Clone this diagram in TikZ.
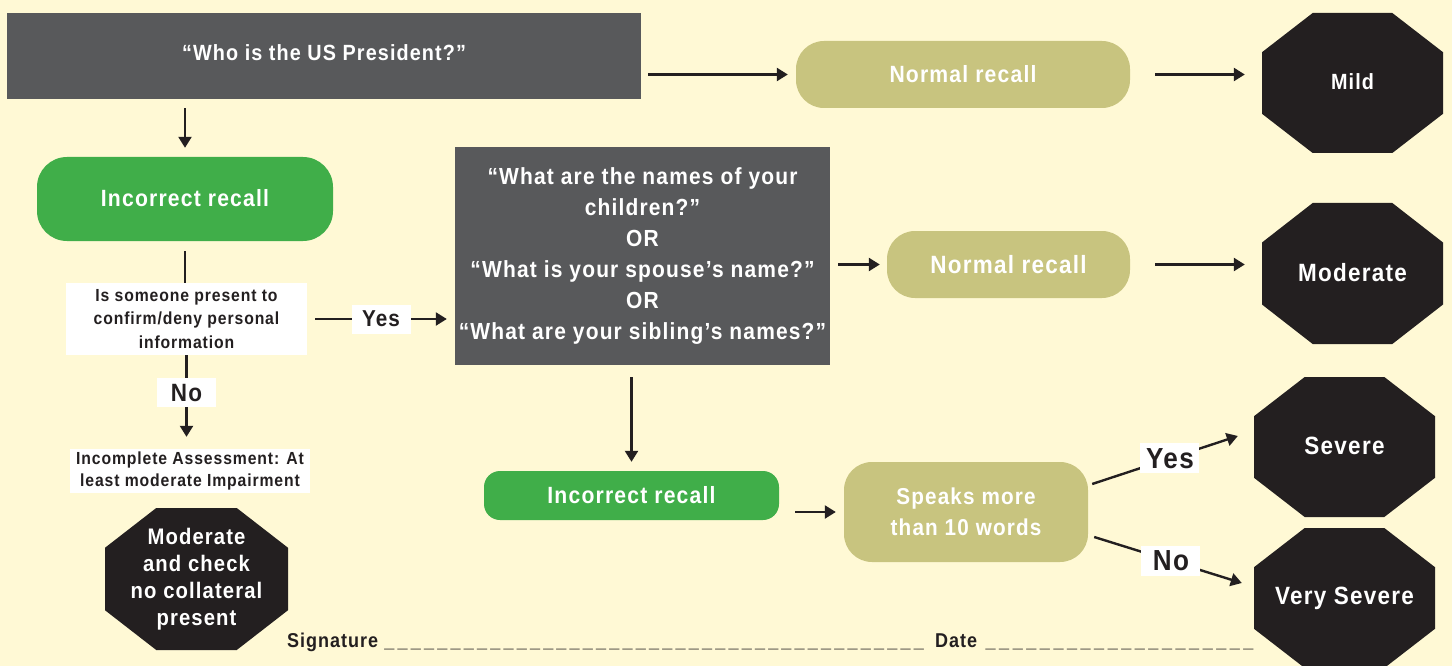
\documentclass[tikz,border=0pt]{standalone}
\usepackage{fontspec}
\newfontfamily\cf{Liberation Sans Bold}[FakeStretch=0.9,LetterSpace=5]
\usetikzlibrary{arrows.meta,calc}
\definecolor{bgc}{HTML}{FFF9D5}
\definecolor{dkc}{HTML}{58595B}
\definecolor{grc}{HTML}{40AE49}
\definecolor{tanc}{HTML}{C8C47F}
\definecolor{occ}{HTML}{231F20}
\begin{document}
\begin{tikzpicture}[x=1pt,y=-1pt,
  every node/.style={inner sep=0pt, align=center},
  fs/.style n args={2}{font={\cf\fontsize{#1}{#2}\selectfont}},
  arr/.style={draw=occ, line width=2.4pt, -{Triangle[length=11pt,width=13pt]}},
  ln/.style={draw=occ, line width=2.4pt},
  qbox/.style={fill=dkc, text=white},
  grbox/.style={fill=grc, text=white},
  tanbox/.style={fill=tanc, text=white},
  wbox/.style={fill=white, text=occ},
  lbl/.style={fill=white, text=occ},
  octo/.style={text=white, path picture={
    \fill[occ] let \p1=(path picture bounding box.south west),
      \p2=(path picture bounding box.north east),
      \n1={0.28*(\x2-\x1)}, \n2={0.28*(\y2-\y1)} in
      (\x1+\n1,\y1) -- (\x2-\n1,\y1) -- (\x2,\y1+\n2) -- (\x2,\y2-\n2)
      -- (\x2-\n1,\y2) -- (\x1+\n1,\y2) -- (\x1,\y2-\n2) -- (\x1,\y1+\n2) -- cycle;}},
]
\fill[bgc] (0,0) rectangle (1452,666);
\useasboundingbox (0,0) rectangle (1452,666);
\clip (0,0) rectangle (1452,666);

% nodes
\node[qbox, minimum width=634pt, minimum height=86pt, fs={22}{26}] (q1) at (324,56) {\raisebox{7pt}{“Who is the US President?”}};
\node[grbox, rounded corners=30pt, minimum width=296pt, minimum height=84pt, fs={23.5}{26}] (ir1) at (185,199) {\raisebox{3pt}{Incorrect recall}};
\node[wbox, minimum width=241pt, minimum height=72pt, fs={17.5}{23.5}] (conf) at (186.5,319) {Is someone present to\\confirm/deny personal\\information};
\node[wbox, minimum width=240pt, minimum height=44pt, fs={17.5}{21.5}] (inc) at (190,471) {Incomplete Assessment: At\\least moderate Impairment};
\node[octo, minimum width=183pt, minimum height=142pt, fs={22.5}{27}] (modchk) at (196.5,579) {\raisebox{-2pt}{\parbox{150pt}{\centering Moderate\\and check\\no collateral\\present}}};

\node[tanbox, rounded corners=28pt, minimum width=334pt, minimum height=67pt, fs={23.5}{26}] (nr1) at (963,74.5) {\raisebox{2pt}{Normal recall}};
\node[octo, minimum width=181pt, minimum height=140pt, fs={22}{26}] (mild) at (1352.5,83) {\raisebox{3pt}{Mild}};

\node[qbox, minimum width=375pt, minimum height=218pt, fs={23.3}{31}] (q2) at (642.5,256) {“What are the names of your\\children?”\\OR\\“What is your spouse’s name?”\\OR\\“What are your sibling’s names?”};
\node[tanbox, rounded corners=28pt, minimum width=243pt, minimum height=67pt, fs={25}{30}] (nr2) at (1008.5,264.5) {Normal recall};
\node[octo, minimum width=181pt, minimum height=141pt, fs={25}{30}] (moderate) at (1352.5,273.5) {\raisebox{2pt}{Moderate}};

\node[grbox, rounded corners=16pt, minimum width=295pt, minimum height=49pt, fs={23.5}{26}] (ir2) at (631.5,495.5) {Incorrect recall};
\node[tanbox, rounded corners=28pt, minimum width=244pt, minimum height=100pt, fs={23}{31}] (speaks) at (966,512) {Speaks more\\than 10 words};
\node[octo, minimum width=181pt, minimum height=140pt, fs={25}{30}] (severe) at (1344.5,447) {\raisebox{3pt}{Severe}};
\node[octo, minimum width=181pt, minimum height=140pt, fs={25}{30}] (vsev) at (1344.5,598) {Very Severe};

% connectors
\draw[arr, shorten <=9pt, shorten >=9pt] (ir1.north |- q1.south) -- (ir1.north);
\draw[arr, shorten <=7pt, shorten >=8pt] (nr1.west -| q1.east) -- (nr1.west);
\draw[arr, shorten <=25pt, shorten >=17pt] (nr1.east) -- (nr1.east -| mild.west);
\draw[ln, shorten <=10pt] (ir1.south) -- (ir1.south |- conf.north);
\draw[arr, shorten <=8pt, shorten >=8pt] (conf.east) -- (conf.east -| q2.west)
  node[lbl, pos=0.5, minimum width=59pt, minimum height=29pt, fs={23}{26}] (yes1) {Yes};
\draw[arr, shorten >=12pt] (conf.south) -- (conf.south |- inc.north)
  node[lbl, pos=0.4, minimum width=59pt, minimum height=29pt, fs={25}{28}] (no1) {No};
\draw[arr, shorten <=8pt, shorten >=7pt] (q2.east |- nr2.west) -- (nr2.west);
\draw[arr, shorten <=25pt, shorten >=17pt] (nr2.east) -- (nr2.east -| moderate.west);
\draw[arr, shorten <=12pt, shorten >=9pt] (ir2.north |- q2.south) -- (ir2.north);
\draw[arr, shorten <=16pt, shorten >=8pt] (speaks.west -| ir2.east) -- (speaks.west);
\draw[arr] ([shift={(4,-28)}]speaks.east) -- ([shift={(-16,-11)}]severe.west)
  node[lbl, pos=0.534, minimum width=59pt, minimum height=30pt, fs={29}{32}] (yes2) {Yes};
\draw[arr] ([shift={(6,25)}]speaks.east) -- ([shift={(-12,136)}]severe.west)
  node[lbl, pos=0.52, minimum width=59pt, minimum height=30pt, fs={29}{32}] (no2) {No};

% signature line
\node[anchor=base west, text=occ, fs={20}{24}] (sig) at (287,647) {Signature\hspace{6pt}\hbox to 543pt{\xleaders\hbox{\_\kern3pt}\hfill}\hspace{8pt}Date\hspace{8pt}\hbox to 272pt{\xleaders\hbox{\_\kern3pt}\hfill}};
\end{tikzpicture}
\end{document}
